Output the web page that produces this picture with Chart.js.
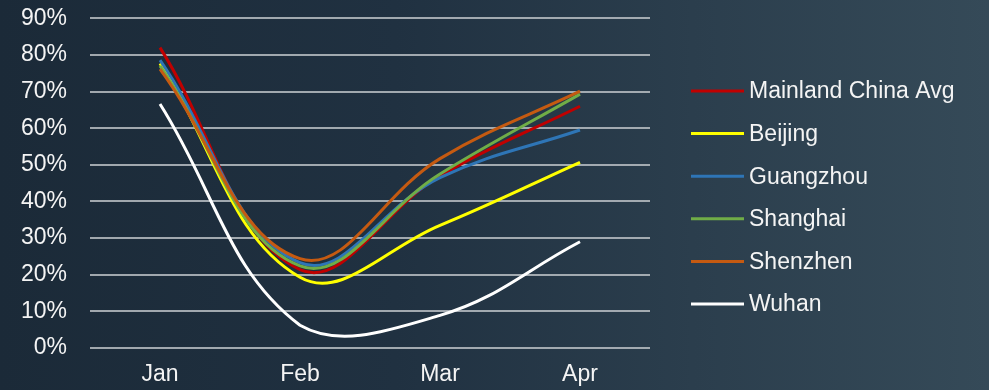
<!DOCTYPE html>
<html>
<head>
<meta charset="utf-8">
<script src="https://cdn.jsdelivr.net/npm/chart.js@4"></script>
<style>
  html, body { margin: 0; padding: 0; }
  body {
    width: 989px; height: 390px; overflow: hidden;
    background: linear-gradient(90deg, #1b2a38 0%, #203141 40%, #2b3e4d 70%, #354a58 100%);
  }
</style>
</head>
<body>
<canvas id="trafficChart" width="989" height="390"></canvas>
<script>
// categorias e valores (%)
const months = ['Jan', 'Feb', 'Mar', 'Apr'];
const seriesNames = ['Mainland China Avg', 'Beijing', 'Guangzhou', 'Shanghai', 'Shenzhen', 'Wuhan'];
const mainlandAvg = [82.0, 21.4, 47.0, 66.0];
const beijing = [77.7, 19.3, 33.5, 50.7];
const guangzhou = [78.6, 23.3, 46.5, 59.5];
const shanghai = [77.0, 22.4, 47.5, 69.3];
const shenzhen = [76.1, 24.4, 51.7, 70.1];
const wuhan = [66.6, 6.2, 8.9, 29.0];
const yTicks = [0, 10, 20, 30, 40, 50, 60, 70, 80, 90];

const seriesValues = [mainlandAvg, beijing, guangzhou, shanghai, shenzhen, wuhan];
const seriesColors = ['#c00000', '#ffff00', '#2e75b6', '#70ad47', '#c55a11', '#ffffff'];

const FONT = '"Liberation Sans", Arial, sans-serif';

// legenda desenhada ao lado do grafico
const sideLegend = {
  id: 'sideLegend',
  afterDraw(chart) {
    const ctx = chart.ctx;
    const left = chart.chartArea.right + 41;
    const top = 91;
    const step = 42.6;
    ctx.save();
    ctx.font = '23px ' + FONT;
    ctx.textBaseline = 'middle';
    ctx.textAlign = 'left';
    chart.data.datasets.forEach(function (ds, i) {
      const y = top + i * step;
      ctx.strokeStyle = ds.borderColor;
      ctx.lineWidth = 3;
      ctx.beginPath();
      ctx.moveTo(left, y);
      ctx.lineTo(left + 53, y);
      ctx.stroke();
      ctx.fillStyle = '#f4f4f4';
      ctx.fillText(ds.label, left + 58, y + 1);
    });
    ctx.restore();
  }
};

document.addEventListener("DOMContentLoaded", function () {
  const ctx = document.getElementById('trafficChart').getContext("2d");
  new Chart(ctx, {
    type: 'line',
    data: {
      labels: months,
      datasets: seriesNames.map(function (name, i) {
        return {
          label: name,
          data: seriesValues[i],
          borderColor: seriesColors[i],
          backgroundColor: seriesColors[i],
          borderWidth: 3,
          pointRadius: 0,
          tension: 0.4,
          fill: false,
          order: seriesNames.length - i
        };
      })
    },
    options: {
      responsive: false,
      animation: false,
      layout: { padding: { left: 21, right: 339, top: 18.3, bottom: 1 } },
      plugins: {
        legend: { display: false },
        tooltip: { enabled: false }
      },
      scales: {
        x: {
          offset: true,
          grid: { display: false, drawTicks: false },
          border: { display: false },
          ticks: { color: '#f4f4f4', padding: 13, font: { family: FONT, size: 23 } },
          afterFit: function (scale) {
            scale.height = 41;
            scale.paddingLeft = 0;
            scale.paddingRight = 0;
          }
        },
        y: {
          min: 0,
          max: 90,
          afterBuildTicks: function (scale) {
            scale.ticks = yTicks.map(function (v) { return { value: v }; });
          },
          grid: { color: 'rgba(185,190,195,0.85)', lineWidth: 2, drawTicks: false },
          border: { display: false },
          ticks: {
            color: '#f4f4f4',
            padding: 23,
            font: { family: FONT, size: 23 },
            callback: function (v) { return v + '%'; }
          },
          afterFit: function (scale) {
            scale.width = 69;
            scale.paddingTop = 0;
            scale.paddingBottom = 0;
          }
        }
      }
    },
    plugins: [sideLegend]
  });
});
</script>
</body>
</html>
